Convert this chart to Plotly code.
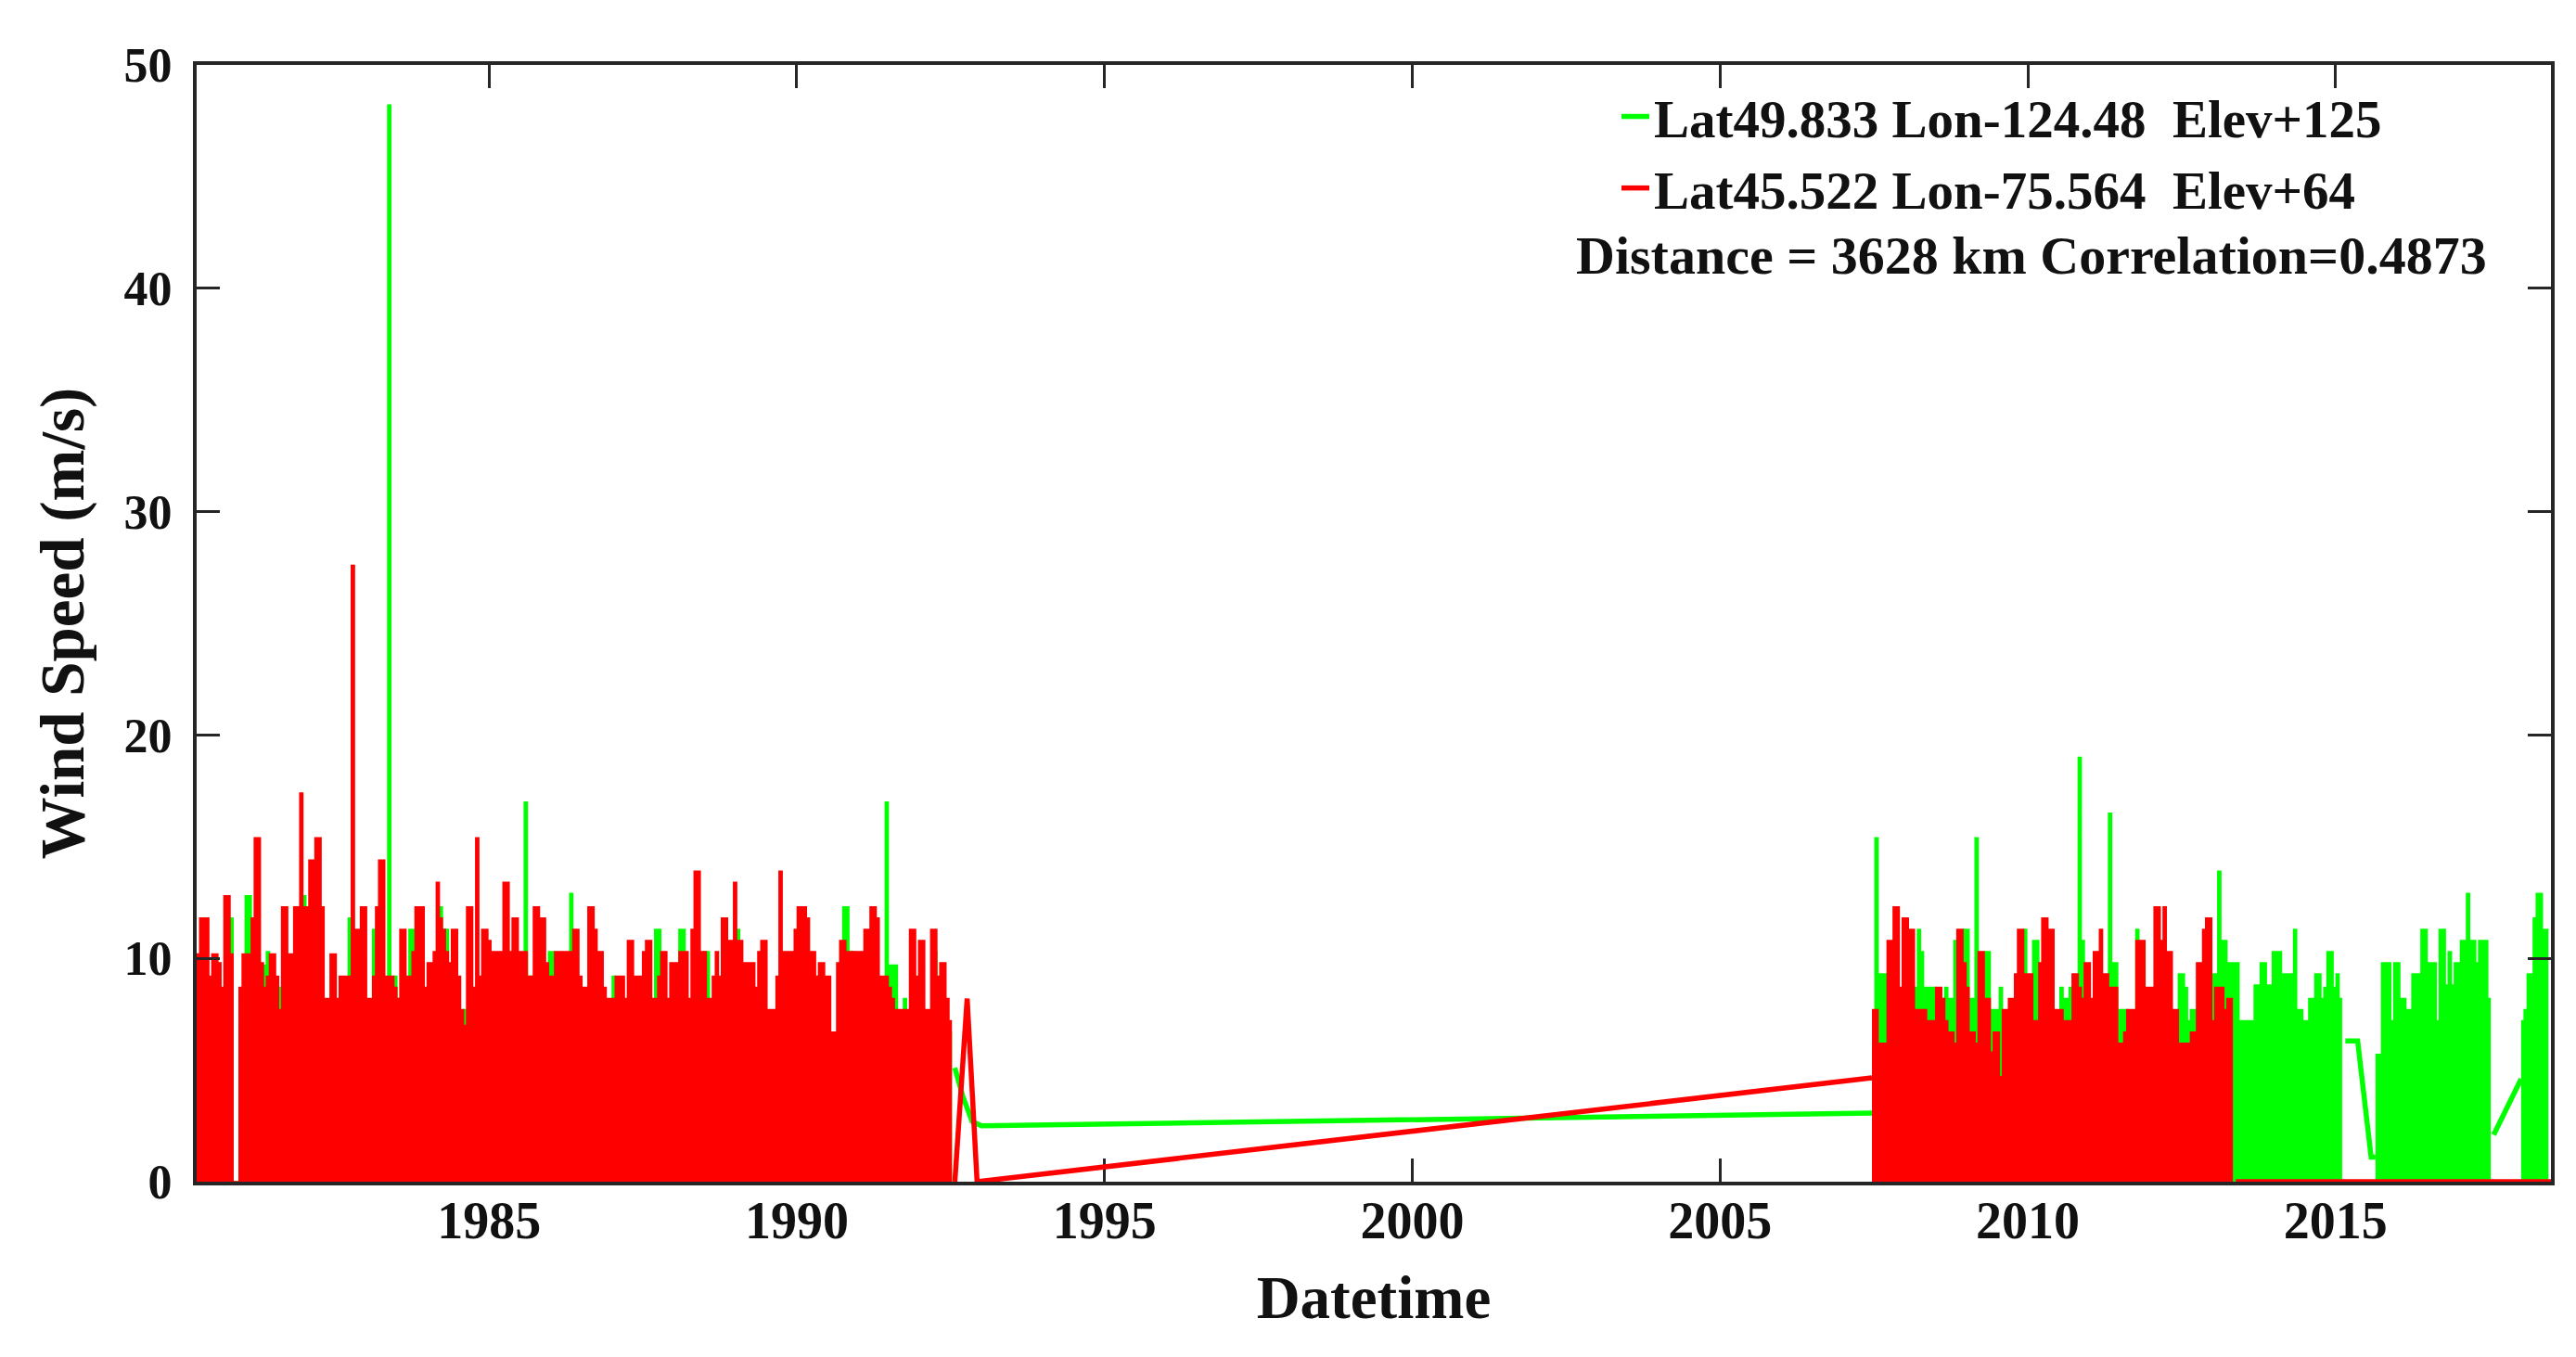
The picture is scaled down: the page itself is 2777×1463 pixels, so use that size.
import pandas as pd
import plotly.graph_objects as go

# ---------------- data ----------------
STEP = "18D"

# Segment 1: 1980-04 .. 1992-07 (both stations)
seg1_start = "1980-04-02"
red_seg1 = [
    10.2, 11.8, 11.8, 11.8, 9.2, 10.2, 10.2, 9.8, 8.7, 12.8,
    12.8, 10.2, 0, 0, 8.7, 10.2, 10.2, 10.2, 11.8, 15.4,
    15.4, 9.8, 8.7, 9.2, 10.2, 10.2, 9.2, 7.7, 12.3, 12.3,
    10.2, 10.2, 12.3, 12.3, 17.4, 12.3, 12.3, 14.4, 14.4, 15.4,
    15.4, 12.3, 8.2, 8.2, 10.2, 10.2, 8.2, 9.2, 9.2, 9.2,
    9.2, 27.6, 11.3, 11.3, 12.3, 12.3, 8.2, 8.2, 9.2, 12.3,
    14.4, 14.4, 9.2, 9.2, 9.2, 8.7, 8.2, 11.3, 11.3, 9.2,
    9.2, 10.3, 12.3, 12.3, 12.3, 8.7, 9.8, 9.8, 10.3, 13.4,
    11.8, 11.3, 10.3, 9.8, 11.3, 11.3, 9.2, 7.7, 7.0, 12.3,
    12.3, 8.7, 15.4, 9.2, 11.3, 11.3, 10.8, 10.3, 10.3, 10.3,
    10.3, 13.4, 13.4, 10.3, 11.8, 11.8, 10.3, 10.3, 10.3, 9.2,
    9.2, 12.3, 12.3, 11.8, 11.8, 9.8, 9.2, 9.2, 10.3, 10.3,
    10.3, 10.3, 10.3, 10.3, 11.3, 11.3, 9.2, 8.7, 8.7, 12.3,
    12.3, 11.3, 10.3, 10.3, 8.7, 8.2, 8.2, 8.2, 9.2, 9.2,
    9.2, 8.2, 10.8, 10.8, 9.2, 9.2, 9.2, 10.3, 10.8, 10.8,
    8.2, 8.2, 9.2, 10.3, 10.3, 8.2, 9.8, 9.8, 9.8, 10.3,
    10.3, 10.3, 8.2, 11.3, 13.9, 13.9, 10.3, 10.3, 8.2, 8.2,
    9.2, 10.3, 9.2, 11.8, 11.8, 10.8, 10.8, 13.4, 10.8, 10.8,
    9.8, 9.8, 9.8, 9.8, 8.7, 10.3, 10.8, 10.8, 7.7, 7.7,
    7.7, 9.2, 13.9, 10.3, 10.3, 10.3, 10.3, 11.3, 12.3, 12.3,
    12.3, 11.8, 10.3, 10.3, 9.2, 9.8, 9.8, 9.2, 9.2, 6.7,
    6.7, 9.8, 10.8, 10.8, 10.3, 10.3, 10.3, 10.3, 10.3, 10.3,
    11.3, 11.3, 12.3, 12.3, 11.8, 9.2, 9.2, 9.2, 8.7, 8.2,
    7.7, 7.7, 7.7, 7.7, 7.7, 11.3, 11.3, 9.2, 10.8, 10.8,
    7.7, 7.7, 11.3, 11.3, 9.2, 9.8, 9.8, 8.2, 7.2, 7.2,
]
green_seg1 = [
    6.7, 6.7, 6.7, 6.7, 6.7, 6.7, 6.7, 6.7, 6.7, 6.7,
    6.7, 11.8, 0, 0, 6.7, 6.7, 12.8, 12.8, 6.7, 6.7,
    6.7, 6.7, 9.7, 10.3, 6.7, 6.7, 6.7, 8.7, 6.7, 6.7,
    6.7, 6.7, 6.7, 6.7, 6.7, 12.8, 6.7, 6.7, 6.7, 6.7,
    6.7, 6.7, 6.7, 6.7, 6.7, 6.7, 6.7, 6.7, 6.7, 6.7,
    11.8, 6.7, 6.7, 6.7, 6.7, 6.7, 6.7, 6.7, 11.3, 6.7,
    6.7, 6.7, 6.7, 48.2, 6.7, 9.2, 8.2, 6.7, 6.7, 6.7,
    11.3, 11.3, 6.7, 6.7, 6.7, 6.7, 6.7, 6.7, 6.7, 6.7,
    12.3, 11.3, 11.3, 6.7, 6.7, 6.7, 6.7, 6.7, 7.7, 6.7,
    6.7, 6.7, 6.7, 6.7, 6.7, 6.7, 6.7, 6.7, 6.7, 6.7,
    6.7, 6.7, 6.7, 6.7, 6.7, 6.7, 6.7, 6.7, 17.0, 9.2,
    9.2, 6.7, 6.7, 6.7, 6.7, 6.7, 10.3, 10.3, 6.7, 6.7,
    6.7, 6.7, 6.7, 12.9, 6.7, 6.7, 6.7, 6.7, 6.7, 6.7,
    6.7, 6.7, 6.7, 6.7, 6.7, 6.7, 6.7, 9.2, 6.7, 6.7,
    6.7, 6.7, 6.7, 6.7, 6.7, 6.7, 6.7, 6.7, 6.7, 6.7,
    6.7, 11.3, 11.3, 6.7, 6.7, 6.7, 6.7, 6.7, 6.7, 11.3,
    11.3, 6.7, 6.7, 6.7, 6.7, 6.7, 6.7, 10.3, 10.3, 6.7,
    6.7, 6.7, 6.7, 6.7, 6.7, 6.7, 6.7, 6.7, 11.3, 6.7,
    6.7, 6.7, 6.7, 6.7, 6.7, 6.7, 6.7, 6.7, 6.7, 6.7,
    6.7, 6.7, 6.7, 6.7, 6.7, 6.7, 6.7, 6.7, 6.7, 6.7,
    6.7, 6.7, 6.7, 6.7, 9.2, 6.7, 6.7, 6.7, 6.7, 6.7,
    6.7, 6.7, 6.7, 12.3, 12.3, 10.3, 10.3, 6.7, 6.7, 6.7,
    6.7, 6.7, 6.7, 6.7, 6.7, 6.7, 6.7, 17.0, 9.7, 9.7,
    9.7, 6.7, 6.7, 8.2, 6.7, 6.7, 6.7, 6.7, 6.7, 6.7,
    6.7, 6.7, 6.7, 10.3, 6.7, 6.7, 6.7, 6.7, 6.7, 6.7,
]

# Segment 2: 2007-06 .. (red to 2013-05, green to 2015-02)
seg2_start = "2007-06-21"
red_seg2 = [
    7.7, 7.7, 6.2, 6.2, 6.2, 10.8, 10.8, 12.3, 12.3, 8.7,
    11.8, 11.8, 11.3, 11.3, 7.7, 7.7, 7.7, 7.7, 7.2, 7.2,
    7.2, 8.7, 8.7, 8.2, 7.2, 6.7, 6.7, 6.2, 11.3, 11.3,
    9.8, 8.7, 6.7, 6.7, 6.2, 10.3, 10.3, 8.2, 8.2, 5.8,
    6.7, 6.7, 4.7, 7.7, 7.7, 8.2, 8.2, 9.3, 11.3, 11.3,
    9.3, 9.3, 9.3, 7.2, 7.2, 9.8, 11.8, 11.8, 11.3, 11.3,
    7.7, 7.7, 7.7, 7.2, 7.2, 7.2, 9.3, 9.3, 8.7, 8.2,
    9.8, 9.8, 8.2, 10.3, 10.3, 11.3, 9.3, 9.3, 8.7, 8.7,
    8.7, 6.2, 6.2, 6.7, 7.7, 7.7, 7.7, 10.8, 10.8, 10.8,
    8.7, 8.7, 8.7, 12.3, 12.3, 10.8, 12.3, 10.3, 10.3, 7.7,
    7.7, 6.2, 6.2, 6.2, 6.2, 6.7, 6.7, 9.8, 9.8, 11.3,
    11.8, 11.8, 7.2, 8.7, 8.7, 8.7, 7.7, 8.2, 8.2, 8.2,
]
green_seg2 = [
    6.2, 15.4, 9.3, 9.3, 9.3, 6.2, 6.2, 6.2, 6.2, 6.2,
    6.2, 6.2, 6.2, 6.2, 8.7, 11.3, 10.3, 8.7, 8.7, 8.7,
    8.7, 6.2, 6.2, 8.2, 8.7, 8.2, 8.2, 10.8, 6.2, 6.2,
    11.3, 11.3, 8.2, 8.2, 15.4, 6.2, 6.2, 10.3, 10.3, 7.7,
    7.7, 7.7, 8.7, 6.2, 6.2, 6.2, 6.2, 6.2, 6.2, 6.2,
    11.3, 6.2, 6.2, 10.8, 10.8, 6.2, 6.2, 6.2, 6.2, 6.2,
    6.2, 6.2, 8.7, 8.2, 8.2, 8.7, 6.2, 6.2, 19.0, 10.8,
    6.2, 6.2, 6.2, 6.2, 6.2, 6.2, 6.2, 6.2, 16.5, 9.8,
    9.8, 7.7, 7.7, 7.7, 6.2, 6.2, 6.2, 11.3, 6.2, 6.2,
    6.2, 6.2, 6.2, 6.2, 6.2, 6.2, 6.2, 6.2, 6.2, 6.2,
    6.2, 9.3, 9.3, 8.7, 7.2, 7.7, 7.7, 6.2, 6.2, 6.2,
    6.2, 6.2, 9.3, 9.3, 13.9, 10.8, 10.8, 9.8, 9.8, 9.8,
    9.8, 7.2, 7.2, 7.2, 7.2, 7.2, 8.8, 8.8, 9.8, 9.8,
    8.8, 8.8, 10.3, 10.3, 10.3, 9.3, 9.3, 9.3, 9.3, 11.3,
    7.7, 7.7, 7.2, 7.2, 8.2, 8.2, 9.3, 9.3, 8.2, 8.7,
    10.3, 10.3, 8.7, 9.3, 8.2, 8.2,
]

# Segment 3: green only, 2015-08 .. 2017-07
seg3_start = "2015-08-26"
green_seg3 = [
    5.7, 5.7, 9.8, 9.8, 9.8, 7.2, 9.8, 9.8, 8.2, 8.2,
    7.7, 7.7, 9.3, 9.3, 9.3, 11.3, 11.3, 9.8, 9.8, 9.8,
    7.2, 11.3, 11.3, 8.8, 10.3, 8.8, 9.8, 9.8, 10.8, 10.8,
    12.9, 10.8, 10.8, 9.8, 10.8, 10.8, 10.8, 8.2, 8.2,
]

# Segment 4: green only, 2018-01 .. 2018-06
seg4_start = "2018-01-06"
green_seg4 = [7.2, 7.7, 9.3, 9.3, 11.8, 12.9, 12.9, 11.3, 11.3, 11.3]

# Sparse stretches joining the dense records
green_link_dates = ["1992-07-27", "1992-09-13", "1992-11-06", "1993-01-01", "2007-06-21",
                    None,
                    "2015-02-28", "2015-05-12", "2015-07-31", "2015-08-26",
                    None,
                    "2017-07-27", "2018-01-06"]
green_link_vals = [5.1, 3.8, 2.7, 2.5, 3.07,
                   None,
                   6.3, 6.3, 1.1, 1.1,
                   None,
                   2.1, 4.6]
red_link_dates = ["1992-07-27", "1992-10-08", "1992-12-06", "2007-06-21",
                  None,
                  "2013-05-19", "2018-07-02"]
red_link_vals = [0, 8.2, 0, 4.65,
                 None,
                 0, 0]

green_name = "Lat49.833 Lon-124.48\u00a0\u00a0Elev+125"
red_name = "Lat45.522 Lon-75.564\u00a0\u00a0Elev+64"
note_text = "Distance = 3628 km Correlation=0.4873"

x_tick_years = ["1985", "1990", "1995", "2000", "2005", "2010", "2015"]
y_ticks = [0, 10, 20, 30, 40, 50]

GREEN = "#00ff00"
RED = "#ff0000"
INK = "#262626"
TEXT = "#111111"
FONT = "Liberation Serif"

# ---------------- figure ----------------
fig = go.Figure()


def dense(start, vals, color, group):
    x = pd.date_range(start=start, periods=len(vals), freq=STEP)
    return go.Scatter(x=x, y=vals, mode="lines", line=dict(color=color, width=1.5, shape="hv"),
                      fill="tozeroy", fillcolor=color, legendgroup=group, showlegend=False,
                      hoverinfo="skip")


fig.add_trace(dense(seg1_start, green_seg1, GREEN, "g"))
fig.add_trace(dense(seg2_start, green_seg2, GREEN, "g"))
fig.add_trace(dense(seg3_start, green_seg3, GREEN, "g"))
fig.add_trace(dense(seg4_start, green_seg4, GREEN, "g"))
fig.add_trace(go.Scatter(x=pd.to_datetime(green_link_dates), y=green_link_vals, mode="lines",
                         line=dict(color=GREEN, width=5.5), name=green_name, legendgroup="g",
                         connectgaps=False))
fig.add_trace(dense(seg1_start, red_seg1, RED, "r"))
fig.add_trace(dense(seg2_start, red_seg2, RED, "r"))
fig.add_trace(go.Scatter(x=pd.to_datetime(red_link_dates), y=red_link_vals, mode="lines",
                         line=dict(color=RED, width=5.5), name=red_name, legendgroup="r",
                         connectgaps=False))

axis_common = dict(showline=True, linewidth=4, linecolor=INK, mirror="ticks", ticks="inside",
                   ticklen=25, tickwidth=3, tickcolor=INK, showgrid=False, zeroline=False)

fig.update_layout(
    width=2777, height=1463,
    margin=dict(l=204, r=35, t=62, b=197),
    plot_bgcolor="white", paper_bgcolor="white",
    font=dict(family=FONT, color=TEXT),
    xaxis=dict(type="date", range=["1980-04-02", "2018-07-02"],
               tickvals=[f"{y}-01-01" for y in x_tick_years], ticktext=x_tick_years,
               tickfont=dict(family=FONT, size=56, weight="bold", color=TEXT),
               ticklabelstandoff=-10, layer="below traces",
               title=dict(text="Datetime", font=dict(family=FONT, size=65, weight="bold", color=TEXT),
                          standoff=30),
               **axis_common),
    yaxis=dict(range=[0, 50], tickvals=y_ticks, ticktext=[str(v) for v in y_ticks],
               tickfont=dict(family=FONT, size=52, weight="bold", color=TEXT),
               ticklabelstandoff=12,
               title=dict(text="Wind Speed (m/s)", font=dict(family=FONT, size=67, weight="bold", color=TEXT),
                          standoff=22),
               **axis_common),
    legend=dict(x=(1735 - 204) / 2538, y=1 - (74 - 62) / 1204, xanchor="left", yanchor="top",
                bgcolor="rgba(0,0,0,0)", borderwidth=0, itemwidth=30, tracegroupgap=0,
                font=dict(family=FONT, size=57, weight="bold", color=TEXT)),
    annotations=[dict(text=note_text, xref="paper", yref="paper",
                      x=(1689 - 204) / 2538, y=1 - (268 - 62) / 1204,
                      xanchor="left", yanchor="middle", showarrow=False,
                      font=dict(family=FONT, size=58, weight="bold", color=TEXT))],
    showlegend=True,
)

fig.write_html("out.html")
